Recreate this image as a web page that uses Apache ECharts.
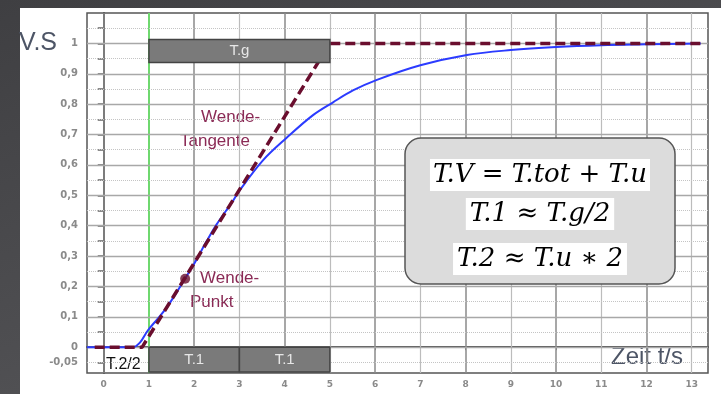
<!DOCTYPE html>
<html>
<head>
<meta charset="utf-8">
<script src="https://cdn.jsdelivr.net/npm/echarts@6/dist/echarts.min.js"></script>
<style>
    body { margin: 0; width: 721px; height: 394px; overflow: hidden; position: relative;
           background: linear-gradient(160deg, #3f3f42, #5b5b5e); }
    #panel { position: absolute; left: 20px; top: 8px; right: 0; bottom: 0; background: #fff; }
    #chart { position: absolute; left: 0; top: 0; width: 721px; height: 394px; }
</style>
</head>
<body>
<div id="panel"></div>
<div id="chart"></div>
<script>
// Achsen
const xTicks = [0, 1, 2, 3, 4, 5, 6, 7, 8, 9, 10, 11, 12, 13];
const yLabels = [-0.05, 0, 0.1, 0.2, 0.3, 0.4, 0.5, 0.6, 0.7, 0.8, 0.9, 1];
const yMinor = [-0.05, 0, 0.05, 0.1, 0.15, 0.2, 0.25, 0.3, 0.35, 0.4, 0.45, 0.5,
                0.55, 0.6, 0.65, 0.7, 0.75, 0.8, 0.85, 0.9, 0.95, 1, 1.05];

// Sprungantwort
const zeit = [-0.37, 0, 0.4, 0.64, 0.8, 0.97, 1.2, 1.39, 1.6, 1.79, 2.0, 2.28, 2.5, 2.85, 3.0,
              3.52, 4.05, 4.62, 5.07, 5.51, 6.04, 7.0, 8.03, 9.0, 10.0, 11.0, 12.0, 13.2];
const wert = [0, 0, 0, 0, 0.015, 0.054, 0.095, 0.13, 0.178, 0.224, 0.275, 0.35, 0.405, 0.48, 0.515,
              0.615, 0.69, 0.763, 0.806, 0.845, 0.88, 0.928, 0.962, 0.978, 0.988, 0.994, 0.997, 1.0];

// Wendetangente
const tangenteT = [-0.2, 0.85, 5, 13.2];
const tangenteV = [0, 0, 1, 1];

// Wendepunkt
const wendepunkt = [1.8, 0.225];

// Zeitabschnitte
const tgSpanne = [1, 5];
const t1Spannen = [[1, 3], [3, 5]];

const chart = echarts.init(document.getElementById('chart'));

const gitterLinien = [];
xTicks.forEach(t => {
    let farbe = t % 2 === 0 ? '#8a8a8a' : '#bcbcbc';
    let breite = t % 2 === 0 ? 1.5 : 1.2;
    if (t === 1) { farbe = '#6fd86f'; breite = 2; }
    gitterLinien.push({ xAxis: t, lineStyle: { color: farbe, width: breite, type: 'solid' } });
});
yMinor.forEach(v => {
    const voll = Math.round(v * 100) % 10 === 0;
    gitterLinien.push({ yAxis: v, lineStyle: { color: voll ? '#a8a8a8' : '#c4c4c4', width: voll ? 1.3 : 1, type: voll ? 'solid' : 'dotted' } });
});

const textFarbe = '#8a2a55';

const option = {
    animation: false,
    grid: { left: 87, right: 13, top: 13, bottom: 21, show: true, borderColor: '#555', borderWidth: 1.5 },
    xAxis: {
        type: 'value', min: -0.37, max: 13.36,
        axisLine: { show: true, lineStyle: { color: '#555', width: 2 } },
        axisTick: { show: true, customValues: xTicks, length: 3, lineStyle: { color: '#777' } },
        axisLabel: { customValues: xTicks, fontSize: 9, fontWeight: 'bold', fontFamily: 'DejaVu Sans', color: '#8a8a8a', margin: 7 },
        splitLine: { show: false }
    },
    yAxis: {
        type: 'value', min: -0.085, max: 1.1,
        axisLine: { show: true, lineStyle: { color: '#555', width: 2 } },
        axisTick: { show: true, customValues: yMinor, length: 6, lineStyle: { color: '#666', width: 1.5 } },
        axisLabel: {
            customValues: yLabels, fontSize: 10, fontWeight: 'bold', fontFamily: 'DejaVu Sans', color: '#8a8a8a', margin: 9,
            formatter: v => String(v).replace('.', ',')
        },
        splitLine: { show: false }
    },
    series: [
        {
            // Gitter
            type: 'line', data: [], silent: true, z: 1,
            markLine: { z: 1, silent: true, symbol: 'none', label: { show: false }, data: gitterLinien }
        },
        {
            type: 'line', z: 3,
            data: zeit.map((t, i) => [t, wert[i]]),
            showSymbol: false, smooth: 0.35,
            lineStyle: { color: '#2b3bff', width: 2 }
        },
        {
            type: 'line', z: 4,
            data: tangenteT.map((t, i) => [t, tangenteV[i]]),
            showSymbol: false,
            lineStyle: { color: '#6a0e2e', width: 3.5, type: [10, 5] }
        },
        {
            type: 'scatter', z: 5,
            data: [wendepunkt], symbolSize: 10,
            itemStyle: { color: '#6a1030' }
        },
        {
            // Zeitbalken
            type: 'line', data: [], z: 6, silent: true,
            markArea: {
                z: 8,
                silent: true,
                itemStyle: { color: '#7a7a7a', borderColor: '#444', borderWidth: 1.5 },
                label: { show: true, position: 'inside', color: '#e6e6e6', fontSize: 15, fontFamily: 'Arial' },
                data: [
                    [{ name: 'T.g', coord: [tgSpanne[0], 0.937] }, { coord: [tgSpanne[1], 1.013] }],
                    ...t1Spannen.map(s => [{ name: 'T.1', coord: [s[0], 0] }, { coord: [s[1], -0.082] }])
                ]
            }
        }
    ],
    graphic: [
        { type: 'text', x: 19, y: 43, style: { text: 'V.S', font: '25px Arial', fill: '#4d5566', verticalAlign: 'middle' } },
        { type: 'text', x: 611, y: 357, style: { text: 'Zeit t/s', font: '24px Arial', fill: '#4d5566', verticalAlign: 'middle' } },
        { type: 'text', x: 106, y: 365, style: { text: 'T.2/2', font: '16px Arial', fill: '#111', verticalAlign: 'middle' } },
        { type: 'text', x: 201, y: 117, style: { text: 'Wende-', font: '17px Arial', fill: textFarbe, verticalAlign: 'middle' } },
        { type: 'text', x: 180, y: 141, style: { text: 'Tangente', font: '17px Arial', fill: textFarbe, verticalAlign: 'middle' } },
        { type: 'text', x: 200, y: 278, style: { text: 'Wende-', font: '17px Arial', fill: textFarbe, verticalAlign: 'middle' } },
        { type: 'text', x: 190, y: 302, style: { text: 'Punkt', font: '17px Arial', fill: textFarbe, verticalAlign: 'middle' } },
        {
            type: 'rect', z: 100,
            shape: { x: 405, y: 138, width: 270, height: 146, r: 16 },
            style: { fill: '#dcdcdc', stroke: '#555', lineWidth: 1.5 }
        },
        {
            type: 'text', z: 101, x: 540, y: 175,
            style: { text: 'T.V = T.tot + T.u', font: 'italic 26px "DejaVu Serif"', fill: '#000',
                     align: 'center', verticalAlign: 'middle', backgroundColor: '#fff', padding: [3, 3] }
        },
        {
            type: 'text', z: 101, x: 540, y: 214,
            style: { text: 'T.1 ≈ T.g/2', font: 'italic 26px "DejaVu Serif"', fill: '#000',
                     align: 'center', verticalAlign: 'middle', backgroundColor: '#fff', padding: [3, 4] }
        },
        {
            type: 'text', z: 101, x: 540, y: 259,
            style: { text: 'T.2 ≈ T.u ∗ 2', font: 'italic 26px "DejaVu Serif"', fill: '#000',
                     align: 'center', verticalAlign: 'middle', backgroundColor: '#fff', padding: [3, 4] }
        }
    ]
};

chart.setOption(option);
</script>
</body>
</html>
